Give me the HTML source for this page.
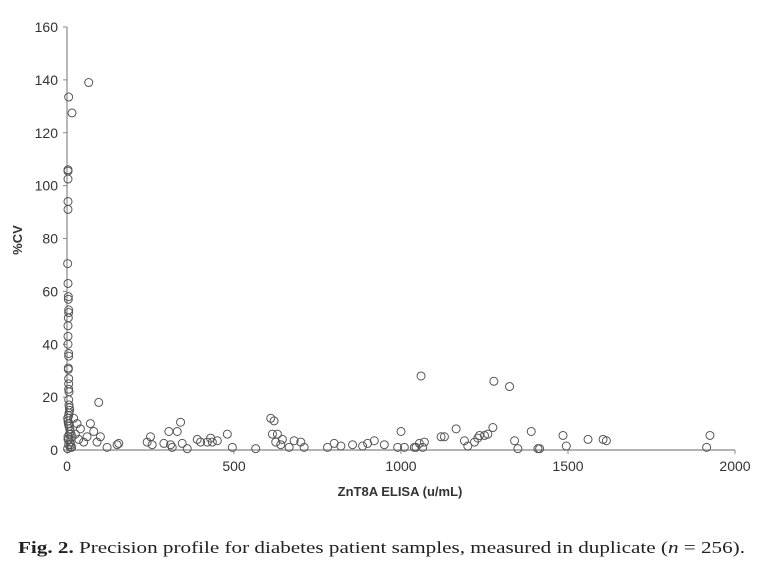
<!DOCTYPE html>
<html><head><meta charset="utf-8"><style>
body{margin:0;background:#fff;width:766px;height:572px;overflow:hidden}
svg text{font-family:"Liberation Sans","DejaVu Sans",sans-serif;fill:#333}
</style></head><body>
<svg width="766" height="572" id="c">
<text x="18" y="553" textLength="727" lengthAdjust="spacingAndGlyphs" style="font-family:'Liberation Serif',serif;font-size:17px;fill:#222"><tspan font-weight="bold">Fig. 2.</tspan> Precision profile for diabetes patient samples, measured in duplicate (<tspan font-style="italic">n</tspan> = 256).</text>
</svg>
<script>
const xTicks=[0,500,1000,1500,2000];
const yTicks=[0,20,40,60,80,100,120,140,160];
const xVals=[5,15,65,3,3,3,3,3,2,3,4,4,5,5,4,3,3,3,5,5,4,4,5,5,5,6,5,6,7,8,6,5,2,3,4,6,8,10,12,3,4,9,11,14,2,6,7,3,5,10,20,30,40,25,15,35,50,60,80,100,95,70,90,120,150,155,240,250,255,290,305,310,315,330,345,340,360,390,400,420,430,435,450,480,495,565,610,615,620,625,630,640,645,665,680,700,710,780,800,820,855,885,900,920,950,990,1000,1010,1040,1045,1055,1060,1065,1070,1120,1130,1165,1190,1200,1220,1230,1235,1250,1260,1275,1278,1325,1340,1350,1390,1410,1415,1485,1495,1560,1605,1615,1915,1925];
const yVals=[133.5,127.5,139,106,105.5,102.5,94,91,70.5,63,58,57,53,52,50,47,43,40,36.5,35.5,31,30.5,27,25,23,22,19,17,16,15,14,13,12,11,10,9,8,7,6,5,4,3,2,1,0.5,10,6,4,2,1,12,10,8,6,5,4,3,5,7,5,18,10,3,1,2,2.5,3,5,2,2.5,7,2,1,7,2.5,10.5,0.5,4,3,3,4.5,3,3.5,6,1,0.5,12,6,11,3,6,2,4,1,3.5,3,1,1,2.5,1.5,2,1.5,2.5,3.5,2,1,7,1,1,1,2.5,28,1,3,5,5,8,3.5,1.5,3,4.5,5.5,5.5,6,8.5,26,24,3.5,0.5,7,0.5,0.5,5.5,1.5,4,4,3.5,1,5.5,3];
const L=67,R=735,T=27,B=450;
const sx=v=>L+(v-0)/2000*(R-L), sy=v=>B-v/160*(B-T);
const svg=document.getElementById('c'),NS='http://www.w3.org/2000/svg';
function mk(t,a){const e=document.createElementNS(NS,t);for(const k in a)e.setAttribute(k,a[k]);svg.appendChild(e);return e;}
let e=mk('line',{x1:L,y1:T,x2:L,y2:B,stroke:'#888','stroke-width':1.2});


e=mk('line',{x1:L,y1:B,x2:R,y2:B,stroke:'#888','stroke-width':1.2});


yTicks.forEach(v=>{mk('line',{x1:L-4,x2:L,y1:sy(v),y2:sy(v),stroke:'#888'});
 const t=mk('text',{x:L-9,y:sy(v)+5,'text-anchor':'end','font-size':14});t.textContent=v;
 
 });
xTicks.forEach(v=>{mk('line',{x1:sx(v),x2:sx(v),y1:B,y2:B+4,stroke:'#888'});
 const t=mk('text',{x:sx(v),y:B+21,'text-anchor':'middle','font-size':14});t.textContent=v;
 
 });
xVals.forEach((x,i)=>{const c=mk('circle',{cx:sx(x),cy:sy(yVals[i]),r:4,fill:'none',stroke:'#555','stroke-width':1});
 
 });
let t=mk('text',{x:400,y:496,'text-anchor':'middle','font-size':13,'font-weight':'bold'});t.textContent='ZnT8A ELISA (u/mL)';


t=mk('text',{x:0,y:0,'text-anchor':'middle','font-size':13,'font-weight':'bold',transform:'translate(22,240) rotate(-90)'});t.textContent='%CV';


</script>
</body></html>
